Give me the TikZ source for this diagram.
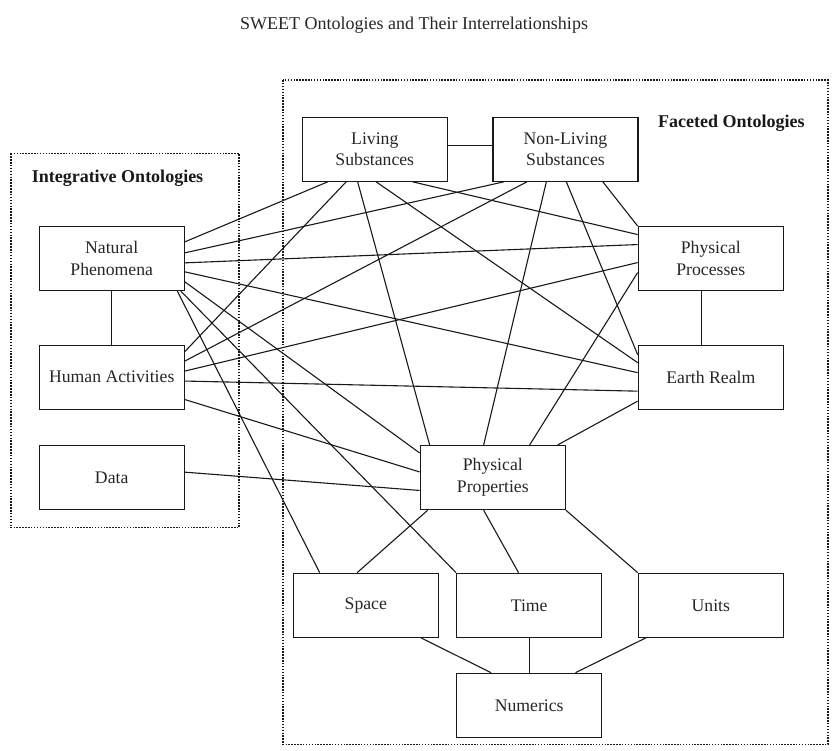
\documentclass[tikz,border=0pt]{standalone}
\usepackage{fontspec}
\setmainfont{Liberation Serif}
\usetikzlibrary{calc}
\begin{document}
\begin{tikzpicture}[x=1pt,y=-1pt,
  box/.style={draw=black!90, line width=1.3pt, minimum width=145pt, minimum height=64pt,
    inner sep=0pt, align=center, text=black!85, font=\fontsize{17.7}{21.8}\selectfont},
  link/.style={line width=1.1pt, black!90},
  group/.style={line width=1.5pt, black!90, dash pattern=on 1.5pt off 1.4pt},
  grouplabel/.style={font=\fontsize{18}{21}\selectfont\bfseries, text=black!90}]
\useasboundingbox (0,0) rectangle (833,750);

% title
\node[font=\fontsize{18}{21}\selectfont, text=black!85] (title) at (414,25)
  {SWEET Ontologies and Their Interrelationships};

% ontology groups
\draw[group] (11,153.3) rectangle (239,527.7);
\draw[group] (283,80) rectangle (828,744.5);
\node[grouplabel] (intlabel) at (117.5,178) {Integrative Ontologies};
\node[grouplabel] (faclabel) at (731.3,123.3) {Faceted Ontologies};

% integrative ontologies
\node[box] (np)   at (111.7,258.5) {Natural\\Phenomena};
\node[box] (ha)   at (111.7,377.2) {Human Activities};
\node[box] (data) at (111.7,477.3) {Data};

% faceted ontologies
\node[box] (ls)    at (374.8,149.2) {Living\\Substances};
\node[box] (nls)   at (565.5,149.2) {Non-Living\\Substances};
\node[box] (pproc) at (710.8,258.7) {Physical\\Processes};
\node[box] (er)    at (710.8,377.3) {Earth Realm};
\node[box] (pprop) at (492.8,477.6) {Physical\\Properties};
\node[box] (space) at (365.8,605.3) {Space};
\node[box] (time)  at (529.2,605.3) {Time};
\node[box] (units) at (710.8,605.3) {Units};
\node[box] (num)   at (529.2,705.3) {Numerics};

% short links between neighbours
\draw[link] ($(ls.east)+(0,-4)$) -- ($(nls.west)+(0,-4)$);
\draw[link] (np.south) -- (ha.north);
\draw[link] ($(pproc.south)+(-9,0)$) -- ($(er.north)+(-9,0)$);

% Natural Phenomena
\draw[link] ($(np.north east)+(0,16)$) -- ($(ls.south west)+(26,0)$);
\draw[link] ($(np.north east)+(0,27)$) -- ($(nls.south west)+(11.5,0)$);
\draw[link] ($(np.north east)+(0,37)$) -- ($(pproc.north west)+(0,18.5)$);
\draw[link] ($(np.north east)+(0,46)$) -- ($(er.north west)+(0,28)$);
\draw[link] ($(np.north east)+(0,56)$) -- ($(pprop.north west)+(0,8)$);
\draw[link] ($(np.south east)+(-4,0)$) -- (time.north west);
\draw[link] ($(np.south east)+(-7.5,0)$) -- ($(space.north west)+(27,0)$);

% Human Activities
\draw[link] ($(ha.north east)+(0,7)$) -- ($(ls.south west)+(44.5,0)$);
\draw[link] ($(ha.north east)+(0,16.5)$) -- ($(nls.south west)+(34.5,0)$);
\draw[link] ($(ha.north east)+(0,26.5)$) -- ($(pproc.north west)+(0,36.5)$);
\draw[link] ($(ha.north east)+(0,36.5)$) -- ($(er.north west)+(0,46.5)$);
\draw[link] ($(ha.north east)+(0,55)$) -- ($(pprop.north west)+(0,27)$);

% Data
\draw[link] ($(data.north east)+(0,27.5)$) -- ($(pprop.north west)+(0,45.5)$);

% Living Substances
\draw[link] ($(ls.south west)+(56,0)$) -- ($(pprop.north west)+(10,0)$);
\draw[link] ($(ls.south west)+(74.5,0)$) -- ($(er.north west)+(0,18)$);
\draw[link] ($(ls.south west)+(111,0)$) -- ($(pproc.north west)+(0,8.5)$);

% Non-Living Substances
\draw[link] ($(nls.south west)+(54,0)$) -- ($(pprop.north west)+(64,0)$);
\draw[link] ($(nls.south west)+(74,0)$) -- ($(er.north west)+(0,10)$);
\draw[link] ($(nls.south west)+(110.5,0)$) -- (pproc.north west);

% Physical Processes and Earth Realm
\draw[link] ($(pproc.north west)+(0,46.5)$) -- ($(pprop.north west)+(110,0)$);
\draw[link] ($(er.north west)+(0,56.5)$) -- ($(pprop.north west)+(138,0)$);

% Physical Properties
\draw[link] ($(pprop.south west)+(8,0)$) -- ($(space.north west)+(64.5,0)$);
\draw[link] ($(pprop.south west)+(64,0)$) -- ($(time.north west)+(62.5,0)$);
\draw[link] (pprop.south east) -- (units.north west);

% Numerics
\draw[link] ($(space.south west)+(128.5,0)$) -- ($(num.north west)+(35,0)$);
\draw[link] (time.south) -- (num.north);
\draw[link] ($(units.south west)+(8,0)$) -- ($(num.north west)+(119.5,0)$);
\end{tikzpicture}
\end{document}
